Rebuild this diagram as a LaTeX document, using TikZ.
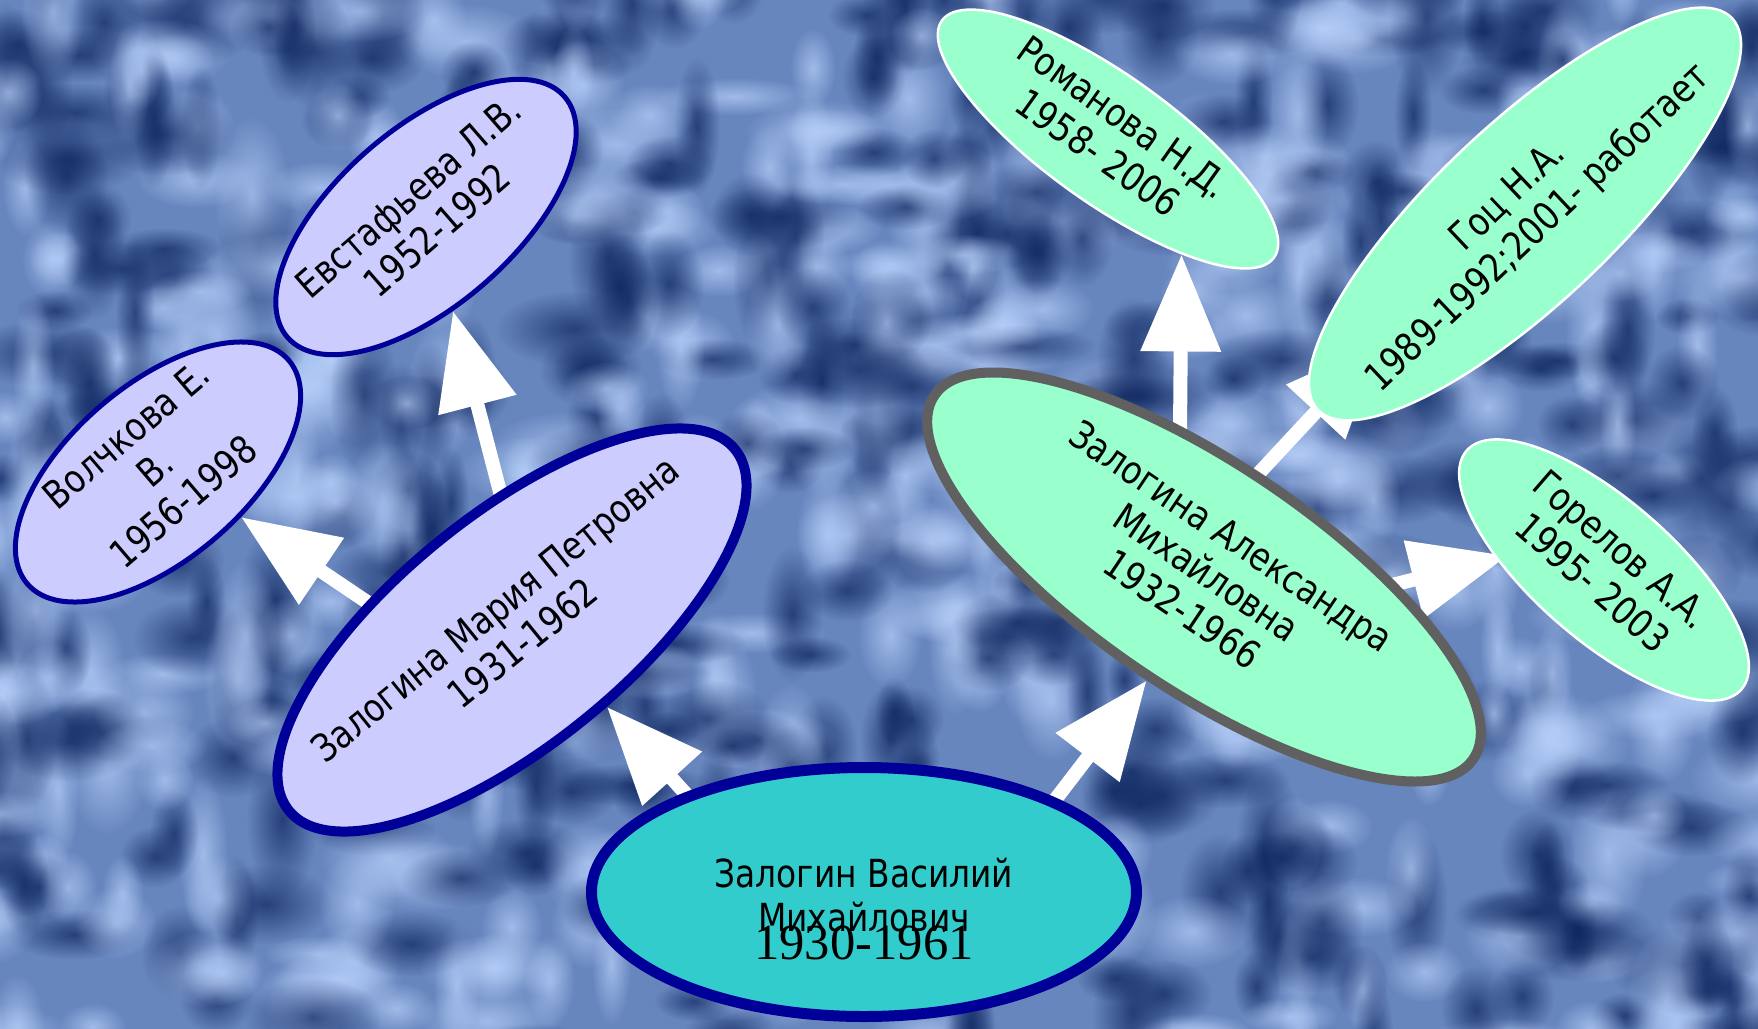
\documentclass[tikz,border=0pt]{standalone}
\usepackage{fontspec}
\setmainfont{DejaVu Sans}[FakeStretch=0.85]
\newfontfamily\yrsfont{Liberation Serif}
\usetikzlibrary{shapes.geometric,arrows.meta,fadings}
\definecolor{bgdark}{RGB}{10,34,92}
\definecolor{bgmid}{RGB}{104,134,190}
\definecolor{bglight}{RGB}{185,210,252}
\definecolor{lilac}{RGB}{204,204,255}
\definecolor{navy}{RGB}{0,0,153}
\definecolor{vasfill}{RGB}{51,204,204}
\definecolor{mint}{RGB}{153,255,204}
\definecolor{rim}{RGB}{96,96,96}
\tikzfading[name=blob, inner color=transparent!0, outer color=transparent!100]
\pgfdeclarelayer{bg}
\pgfdeclarelayer{links}
\pgfsetlayers{bg,links,main}
% text block of zero size, centred on the node
\newcommand\bio[2][0pt]{\makebox[0pt]{\raisebox{\dimexpr-.25em-#1\relax}[0pt][0pt]{$\vcenter{\hbox{\begin{tabular}{@{}c@{}}#2\end{tabular}}}$}}}
\begin{document}
\begin{tikzpicture}[x=0.1mm, y=-0.1mm,
    every node/.style={ellipse, inner sep=0pt, font=\fontsize{11}{12.5}\selectfont},
    lilacnode/.style={fill=lilac, draw=navy},
    mintnode/.style={fill=mint, draw=white, line width=0.25mm},
    link/.style={draw=white, line width=1.4mm, shorten <=-2mm, -{Triangle[length=9.7mm,width=7.7mm]}}]
\useasboundingbox (0,0) rectangle (1758,1029);
\begin{pgfonlayer}{bg}
  \begin{scope}
    \clip (0,0) rectangle (1758,1029);
    \fill[bgmid] (0,0) rectangle (1758,1029);
    \pgfmathsetseed{11}
    % soft blotches
    \foreach \k in {1,...,850}{
      \pgfmathsetmacro\px{rnd*1800-20}
      \pgfmathsetmacro\py{rnd*1070-20}
      \pgfmathsetmacro\ra{30+rnd*50}
      \pgfmathsetmacro\rb{18+rnd*24}
      \pgfmathtruncatemacro\dk{rnd<0.5}
      \pgfmathtruncatemacro\up{rnd<0.45}
      \ifnum\up=1 \let\tmp\ra \let\ra\rb \let\rb\tmp \fi
      \ifnum\dk=1 \def\bc{bgdark}\else\def\bc{bglight}\fi
      \fill[\bc, fill opacity=.7, path fading=blob] (\px,\py) ellipse ({\ra} and {\rb});
    }
  \end{scope}
\end{pgfonlayer}

\node[lilacnode, fill=vasfill, line width=1.1mm, minimum width=54.5mm, minimum height=24.9mm] (vas) at (864,892)
  {\bio[6.4pt]{Залогин Василий\\Михайлович\\[-5.5pt]{\yrsfont\fontsize{14.4}{14}\selectfont 1930-1961}}};
\node[lilacnode, line width=1mm, minimum width=57.4mm, minimum height=23mm, rotate=39] (mar) at (512,630)
  {\bio{Залогина Мария Петровна\\1931-1962}};
\node[lilacnode, line width=0.5mm, minimum width=34.4mm, minimum height=17.5mm, rotate=40.5] (vol) at (158,472)
  {\bio{Волчкова Е.\\В.\\1956-1998}};
\node[lilacnode, line width=0.5mm, minimum width=36.7mm, minimum height=17.7mm, rotate=41] (evs) at (426,217)
  {\bio{Евстафьева Л.В.\\1952-1992}};
\node[mintnode, draw=rim, line width=1mm, minimum width=65mm, minimum height=22.6mm, rotate=-34] (ale) at (1204,577)
  {\bio{Залогина Александра\\Михайловна\\1932-1966}};
\node[mintnode, minimum width=40.8mm, minimum height=12.8mm, rotate=-35.5] (rom) at (1108,139)
  {\bio{Романова Н.Д.\\1958- 2006}};
\node[mintnode, minimum width=57mm, minimum height=17.9mm, rotate=43.4] (gotz) at (1525,214)
  {\bio{Гоц Н.А.\\1989-1992;2001- работает}};
\node[mintnode, minimum width=36.4mm, minimum height=14mm, rotate=-41] (gor) at (1604,570)
  {\bio{Горелов А.А.\\1995- 2003}};

\begin{pgfonlayer}{links}
  \draw[link] (vas.151) -- (mar.-78);
  \draw[link] (vas.26) -- (ale.-85.5);
  \draw[link] (mar.130) -- (vol.-69);
  \draw[link] (mar.56) -- (evs.-115);
  \draw[link] (ale.133) -- (rom.-22.5);
  \draw[link, shorten >=-9.5mm] (ale.96) -- (gotz.west);
  \draw[link, shorten >=-1.2mm] (ale.32) -- (gor.-145);
\end{pgfonlayer}
\end{tikzpicture}
\end{document}
